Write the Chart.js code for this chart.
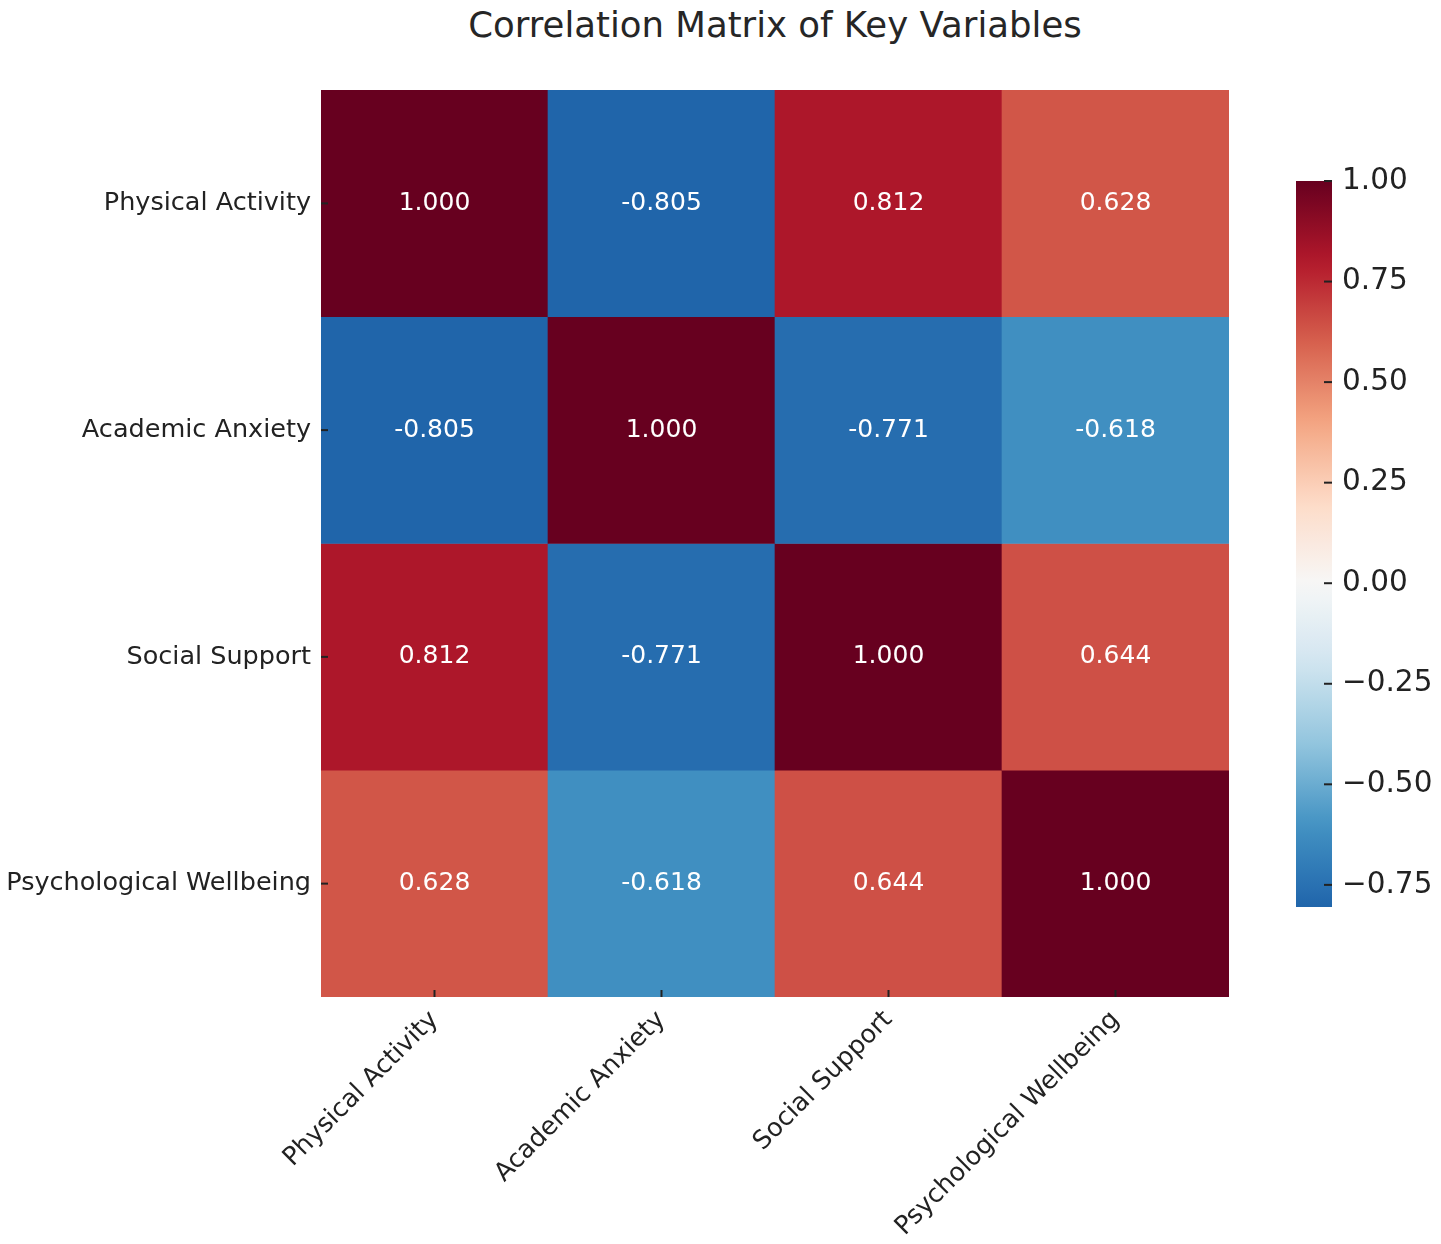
<!DOCTYPE html>
<html>
<head>
<meta charset="utf-8">
<script src="https://cdn.jsdelivr.net/npm/chart.js@4.4.1/dist/chart.umd.min.js"></script>
<style>
  html, body { margin: 0; padding: 0; background: #fff; }
  #wrap { position: relative; width: 1441px; height: 1244px; }
  #title { position: absolute; left: 321px; width: 908px; top: 4px; text-align: center;
           font-family: "DejaVu Sans", sans-serif; font-size: 35.5px; color: #262626; }
  #heat { position: absolute; left: 0; top: 0; }
  #bar { position: absolute; left: 1250px; top: 0; }
</style>
</head>
<body>
<div id="wrap">
  <div id="title">Correlation Matrix of Key Variables</div>
  <canvas id="heat" width="1441" height="1244"></canvas>
  <canvas id="bar" width="191" height="1244"></canvas>
</div>
<script>
const variables = ['Physical Activity', 'Academic Anxiety', 'Social Support', 'Psychological Wellbeing'];
// one row per variable, top to bottom
const rowPhysical = [1.000, -0.805, 0.812, 0.628];
const rowAnxiety = [-0.805, 1.000, -0.771, -0.618];
const rowSupport = [0.812, -0.771, 1.000, 0.644];
const rowWellbeing = [0.628, -0.618, 0.644, 1.000];
const matrix = [rowPhysical, rowAnxiety, rowSupport, rowWellbeing];
const colorbarTicks = [-0.75, -0.5, -0.25, 0, 0.25, 0.5, 0.75, 1.0];
const colorMin = -0.805, colorMax = 1.0;

// RdBu_r, centered at 0 (seaborn style)
const rdbu = ['#053061', '#2166ac', '#4393c3', '#92c5de', '#d1e5f0', '#f7f7f7',
              '#fddbc7', '#f4a582', '#d6604d', '#b2182b', '#67001f'];
function hexToRgb(h) {
  return [parseInt(h.slice(1, 3), 16), parseInt(h.slice(3, 5), 16), parseInt(h.slice(5, 7), 16)];
}
function colorFor(v) {
  let t = (v + 1) / 2;
  t = Math.max(0, Math.min(1, t));
  const p = t * (rdbu.length - 1);
  const i = Math.min(Math.floor(p), rdbu.length - 2);
  const f = p - i;
  const a = hexToRgb(rdbu[i]), b = hexToRgb(rdbu[i + 1]);
  const c = a.map((x, k) => Math.round(x + (b[k] - x) * f));
  return `rgb(${c[0]},${c[1]},${c[2]})`;
}

const font = 'DejaVu Sans';

// cell numbers + small tick marks drawn inside the plot
const cellText = {
  id: 'cellText',
  afterDatasetsDraw(chart) {
    const { ctx, scales: { x, y }, chartArea } = chart;
    ctx.save();
    ctx.font = `25px "${font}"`;
    ctx.fillStyle = '#ffffff';
    ctx.textAlign = 'center';
    ctx.textBaseline = 'middle';
    matrix.forEach((row, r) => {
      row.forEach((v, c) => {
        ctx.fillText(v.toFixed(3), x.getPixelForValue(c), y.getPixelForValue(r + 0.5));
      });
    });
    ctx.strokeStyle = '#222';
    ctx.lineWidth = 2;
    variables.forEach((_, i) => {
      const px = x.getPixelForValue(i);
      ctx.beginPath();
      ctx.moveTo(px, chartArea.bottom);
      ctx.lineTo(px, chartArea.bottom - 7);
      ctx.stroke();
      const py = y.getPixelForValue(i + 0.5);
      ctx.beginPath();
      ctx.moveTo(chartArea.left, py);
      ctx.lineTo(chartArea.left + 7, py);
      ctx.stroke();
    });
    ctx.restore();
  }
};

new Chart(document.getElementById('heat'), {
  type: 'bar',
  data: {
    labels: variables,
    datasets: matrix.map((row, r) => ({
      data: row.map(() => [r, r + 1]),
      backgroundColor: row.map(colorFor),
      borderWidth: 0,
      barPercentage: 1,
      categoryPercentage: 1,
      grouped: false
    }))
  },
  options: {
    responsive: false,
    animation: false,
    layout: { padding: { top: 90, right: 212, left: 0, bottom: 0 } },
    plugins: { legend: { display: false }, tooltip: { enabled: false } },
    scales: {
      x: {
        grid: { display: false, drawTicks: false },
        border: { display: false },
        ticks: {
          font: { family: font, size: 25.5 },
          color: '#222',
          maxRotation: 45,
          minRotation: 45,
          padding: 8
        },
        afterFit(scale) { scale.height = 247; }
      },
      y: {
        min: 0,
        max: 4,
        reverse: true,
        grid: { display: false, drawTicks: false },
        border: { display: false },
        afterBuildTicks(scale) {
          scale.ticks = variables.map((_, i) => ({ value: i + 0.5 }));
        },
        ticks: {
          font: { family: font, size: 25.5 },
          color: '#222',
          padding: 10,
          callback: (v, i) => variables[i]
        },
        afterFit(scale) { scale.width = 321; }
      }
    }
  },
  plugins: [cellText]
});

// colorbar
const barTicks = {
  id: 'barTicks',
  afterDatasetsDraw(chart) {
    const { ctx, scales: { y }, chartArea } = chart;
    ctx.save();
    ctx.strokeStyle = '#222';
    ctx.lineWidth = 2;
    colorbarTicks.forEach(v => {
      const py = y.getPixelForValue(v);
      ctx.beginPath();
      ctx.moveTo(chartArea.right, py);
      ctx.lineTo(chartArea.right - 8, py);
      ctx.stroke();
    });
    ctx.restore();
  }
};

new Chart(document.getElementById('bar'), {
  type: 'bar',
  data: {
    labels: [''],
    datasets: [{
      data: [[colorMin, colorMax]],
      borderWidth: 0,
      barPercentage: 1,
      categoryPercentage: 1,
      backgroundColor(context) {
        const chart = context.chart;
        const y = chart.scales.y;
        if (!chart.chartArea || !y) return '#888';
        const g = chart.ctx.createLinearGradient(0, y.getPixelForValue(colorMin), 0, y.getPixelForValue(colorMax));
        const n = 40;
        for (let k = 0; k <= n; k++) {
          const v = colorMin + (colorMax - colorMin) * k / n;
          g.addColorStop(k / n, colorFor(v));
        }
        return g;
      }
    }]
  },
  options: {
    responsive: false,
    animation: false,
    layout: { padding: { top: 181, bottom: 337, left: 46, right: 0 } },
    plugins: { legend: { display: false }, tooltip: { enabled: false } },
    scales: {
      x: { display: false },
      y: {
        position: 'right',
        min: colorMin,
        max: colorMax,
        grid: { display: false, drawTicks: false },
        border: { display: false },
        afterBuildTicks(scale) {
          scale.ticks = colorbarTicks.map(v => ({ value: v }));
        },
        ticks: {
          font: { family: font, size: 29.5 },
          color: '#222',
          padding: 10,
          callback: v => (v < 0 ? '\u2212' : '') + Math.abs(v).toFixed(2)
        },
        afterFit(scale) { scale.width = 109; }
      }
    }
  },
  plugins: [barTicks]
});
</script>
</body>
</html>
